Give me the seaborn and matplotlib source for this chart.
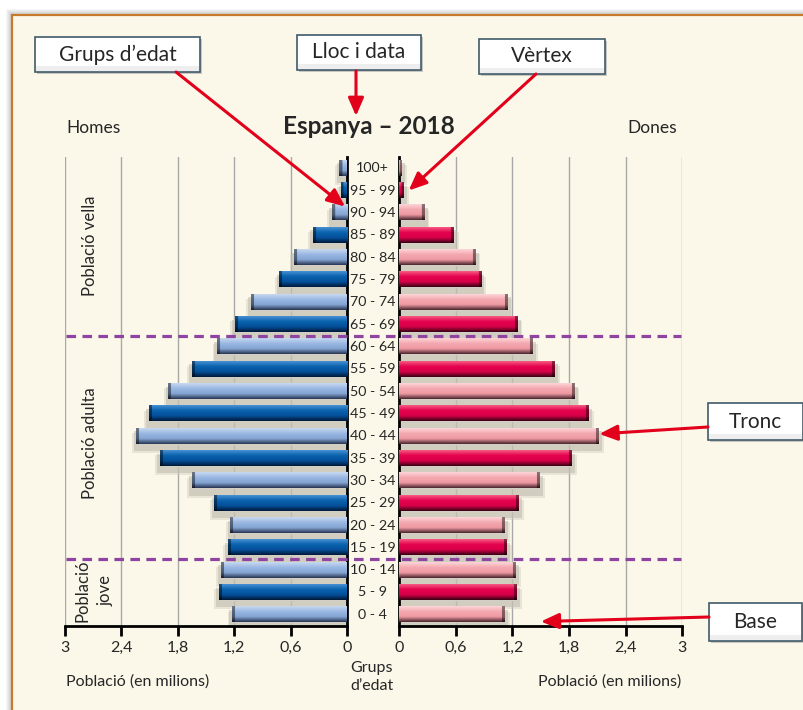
import numpy as np
import pandas as pd
import seaborn as sns
import matplotlib.pyplot as plt
from matplotlib import transforms
from matplotlib.colors import LinearSegmentedColormap
from matplotlib.patches import Rectangle, ConnectionPatch
from matplotlib.lines import Line2D

######################################################################
# data (poblacio en milions, llegida del grafic)

grups = ['0 - 4', '5 - 9', '10 - 14', '15 - 19', '20 - 24', '25 - 29', '30 - 34',
         '35 - 39', '40 - 44', '45 - 49', '50 - 54', '55 - 59', '60 - 64', '65 - 69',
         '70 - 74', '75 - 79', '80 - 84', '85 - 89', '90 - 94', '95 - 99', '100+']
homes = [1.22, 1.36, 1.34, 1.27, 1.24, 1.41, 1.65, 1.99, 2.24, 2.11, 1.90,
         1.65, 1.38, 1.19, 1.02, 0.72, 0.56, 0.365, 0.16, 0.06, 0.08]
dones = [1.12, 1.25, 1.24, 1.14, 1.12, 1.27, 1.49, 1.83, 2.12, 2.01, 1.86,
         1.65, 1.42, 1.255, 1.15, 0.87, 0.81, 0.58, 0.27, 0.05, 0.03]
eix_ticks = [0, 0.6, 1.2, 1.8, 2.4, 3]
eix_labels = ['0', '0,6', '1,2', '1,8', '2,4', '3']

titol = 'Espanya – 2018'
franges = [('Població vella', 90, 246, 1.3), ('Població adulta', 90, 443, 1.3),
           ('Població\njove', 94, 591, 1.55)]

######################################################################
# estil

sns.set_style('white')
plt.rcParams['font.family'] = ['Lato', 'DejaVu Sans']

W, H = 804, 710
crema = '#fbf8ea'
vermell = '#e2001a'
lila = '#8e44a0'

# gradients (dalt -> baix)
cmaps = {
    ('h', 'clar'): LinearSegmentedColormap.from_list('hc', ['#c8d8f0', '#9ab8e3', '#84a4d2', '#2a3654']),
    ('h', 'fosc'): LinearSegmentedColormap.from_list('hf', ['#4690d4', '#0a62ad', '#04509a', '#001a3a']),
    ('d', 'clar'): LinearSegmentedColormap.from_list('dc', ['#fdd4d8', '#f4a8b0', '#ee9aa3', '#4a262e']),
    ('d', 'fosc'): LinearSegmentedColormap.from_list('df', ['#f65a82', '#e4024e', '#d80048', '#3a0015']),
}
paleta_h = {'clar': '#9ab8e3', 'fosc': '#0a62ad'}
paleta_d = {'clar': '#f4a8b0', 'fosc': '#e4024e'}


def fx(x):
    return x / W


def fy(y):
    return 1 - y / H


######################################################################
# dataframe

ordre = grups[::-1]
df = pd.DataFrame({'grup': grups, 'homes': homes, 'dones': dones,
                   'tipus': ['fosc' if i % 2 else 'clar' for i in range(len(grups))]})

fig = plt.figure(figsize=(W / 100, H / 100), dpi=100)
fig.patch.set_facecolor('white')

# marc amb ombra
for k in range(1, 7):
    fig.add_artist(Rectangle((fx(12) - k / W, -0.1), 1.2, fy(15) + 0.1 + k / H,
                             transform=fig.transFigure, fc='black', ec='none',
                             alpha=0.035, zorder=-12))
fig.add_artist(Rectangle((fx(12), -0.1), 1.2, fy(15) + 0.1, transform=fig.transFigure,
                         fc=crema, ec='#c57a2c', lw=1.6, zorder=-10))

ax_l = fig.add_axes([fx(65), fy(626), (347 - 65) / W, (626 - 157) / H])
ax_r = fig.add_axes([fx(399.3), fy(626), (682.3 - 399.3) / W, (626 - 157) / H])


def piramide(ax, col, paleta, costat):
    sns.barplot(data=df, x=col, y='grup', hue='tipus', palette=paleta, order=ordre,
                dodge=False, width=0.68, errorbar=None, legend=False, ax=ax)
    for p in list(ax.patches):
        x0, y0, w, h = p.get_x(), p.get_y(), p.get_width(), p.get_height()
        if w <= 0:
            continue
        idx = int(round(y0 + h / 2))
        tipus = df.loc[df['grup'] == ordre[idx], 'tipus'].iloc[0]
        # ombra difusa
        ax.add_patch(Rectangle((0, y0 + 0.12), w + 0.03, h + 0.2, fc='#c3bfb1',
                               ec='none', alpha=0.6, zorder=2))
        ax.add_patch(Rectangle((0, y0 + 0.2), w + 0.05, h + 0.22, fc='#cdc9bb',
                               ec='none', alpha=0.4, zorder=1.8))
        # barra amb relleu
        files = cmaps[(costat, tipus)](np.linspace(0, 1, 40))[:, :3]
        ncol = max(int(w * 94), 4)
        xs = np.linspace(0, w, ncol)
        factor = np.where(xs > w - 0.03, 0.55, 1.0)
        img = files[:, None, :] * factor[None, :, None]
        ax.imshow(img, extent=(0, w, y0 + h, y0), aspect='auto', zorder=3,
                  interpolation='bilinear')
    ax.set_ylim(len(ordre) - 0.5, -0.5)
    ax.set_xlabel('')
    ax.set_ylabel('')
    ax.set_facecolor('none')
    ax.set_xticks(eix_ticks)
    ax.set_xticklabels(eix_labels)
    ax.xaxis.grid(True, color='#a8a8a8', lw=1)
    ax.yaxis.grid(False)
    ax.set_axisbelow(True)
    ax.tick_params(axis='x', direction='out', length=7, width=2, color='black',
                   labelsize=11.5, pad=4, bottom=True)
    ax.tick_params(axis='y', left=False, labelleft=False)
    for s in ax.spines.values():
        s.set_color('black')
        s.set_linewidth(2)


piramide(ax_l, 'homes', paleta_h, 'h')
piramide(ax_r, 'dones', paleta_d, 'd')

ax_l.set_xlim(3, 0)
ax_r.set_xlim(0, 3)
ax_l.spines['top'].set_visible(False)
ax_l.spines['left'].set_visible(False)
ax_r.spines['top'].set_visible(False)
ax_r.spines['right'].set_visible(False)

# etiquetes dels grups d'edat al centre
trans_c = transforms.blended_transform_factory(fig.transFigure, ax_r.transData)
for i, g in enumerate(ordre):
    ax_r.text(fx(372.5), i, g, transform=trans_c, ha='center', va='center',
              fontsize=10.3, clip_on=False)

# linies discontinues entre franges d'edat
trans = transforms.blended_transform_factory(fig.transFigure, ax_l.transData)
for a, b in [('65 - 69', '60 - 64'), ('15 - 19', '10 - 14')]:
    y = (ordre.index(a) + ordre.index(b)) / 2
    fig.add_artist(Line2D([fx(66), fx(681)], [y, y], transform=trans, color=lila,
                          lw=2.3, ls=(0, (3, 2)), zorder=5))

# textos
fig.text(fx(66), fy(128), 'Homes', ha='left', va='center', fontsize=12.5)
fig.text(fx(677), fy(128), 'Dones', ha='right', va='center', fontsize=12.5)
fig.text(fx(369), fy(126), titol, ha='center', va='center', fontsize=17.5,
         fontweight='bold')
fig.text(fx(372), fy(677), 'Grups\nd’edat', ha='center', va='center', fontsize=11.5,
         linespacing=1.45)
fig.text(fx(66), fy(682), 'Població (en milions)', ha='left', va='center', fontsize=11.5)
fig.text(fx(681), fy(682), 'Població (en milions)', ha='right', va='center', fontsize=11.5)
for txt, xx, yy, ls in franges:
    fig.text(fx(xx), fy(yy), txt, rotation=90, ha='center', va='center',
             fontsize=12, linespacing=ls, multialignment='center')


# caixes i fletxes
def caixa(text, x0, y0, x1, y1):
    fig.add_artist(Rectangle((fx(x0) + 2 / W, fy(y1) - 2 / H), (x1 - x0) / W, (y1 - y0) / H,
                             transform=fig.transFigure, fc='#8a8a8a', ec='none',
                             alpha=0.45, zorder=6))
    fig.add_artist(Rectangle((fx(x0), fy(y1)), (x1 - x0) / W, (y1 - y0) / H,
                             transform=fig.transFigure, fc='white', ec='#3f5a6a',
                             lw=1.2, zorder=7))
    fig.add_artist(Rectangle((fx(x0) + 1 / W, fy(y1) + 1 / H), (x1 - x0 - 2) / W, 5 / H,
                             transform=fig.transFigure, fc='#eeeeee', ec='none',
                             zorder=7.5))
    fig.text(fx((x0 + x1) / 2), fy((y0 + y1) / 2), text, ha='center', va='center',
             fontsize=15, zorder=8)


def fletxa(inici, punta, coords):
    con = ConnectionPatch(xyA=(fx(inici[0]), fy(inici[1])), coordsA=fig.transFigure,
                          xyB=punta, coordsB=coords,
                          arrowstyle='-|>,head_length=0.6,head_width=0.26',
                          mutation_scale=18, color=vermell, lw=2.2, zorder=9)
    fig.add_artist(con)


caixa('Grups d’edat', 35, 37, 200, 72)
caixa('Lloc i data', 297, 35, 421, 70)
caixa('Vèrtex', 479, 39, 605, 74)
caixa('Tronc', 708, 403, 803, 440)
caixa('Base', 709, 603, 802, 641)

fletxa((176, 72), (0.02, ordre.index('90 - 94') - 0.28), ax_l.transData)
fletxa((356, 71), (fx(356), fy(116)), fig.transFigure)
fletxa((536, 74), (0.1, ordre.index('95 - 99')), ax_r.transData)
i40 = grups.index('40 - 44')
fletxa((708, 427), (dones[i40], ordre.index('40 - 44') - 0.1), ax_r.transData)
fletxa((709, 617), (1.5, len(ordre) - 0.7), ax_r.transData)

fig.savefig('out.png', dpi=100)
